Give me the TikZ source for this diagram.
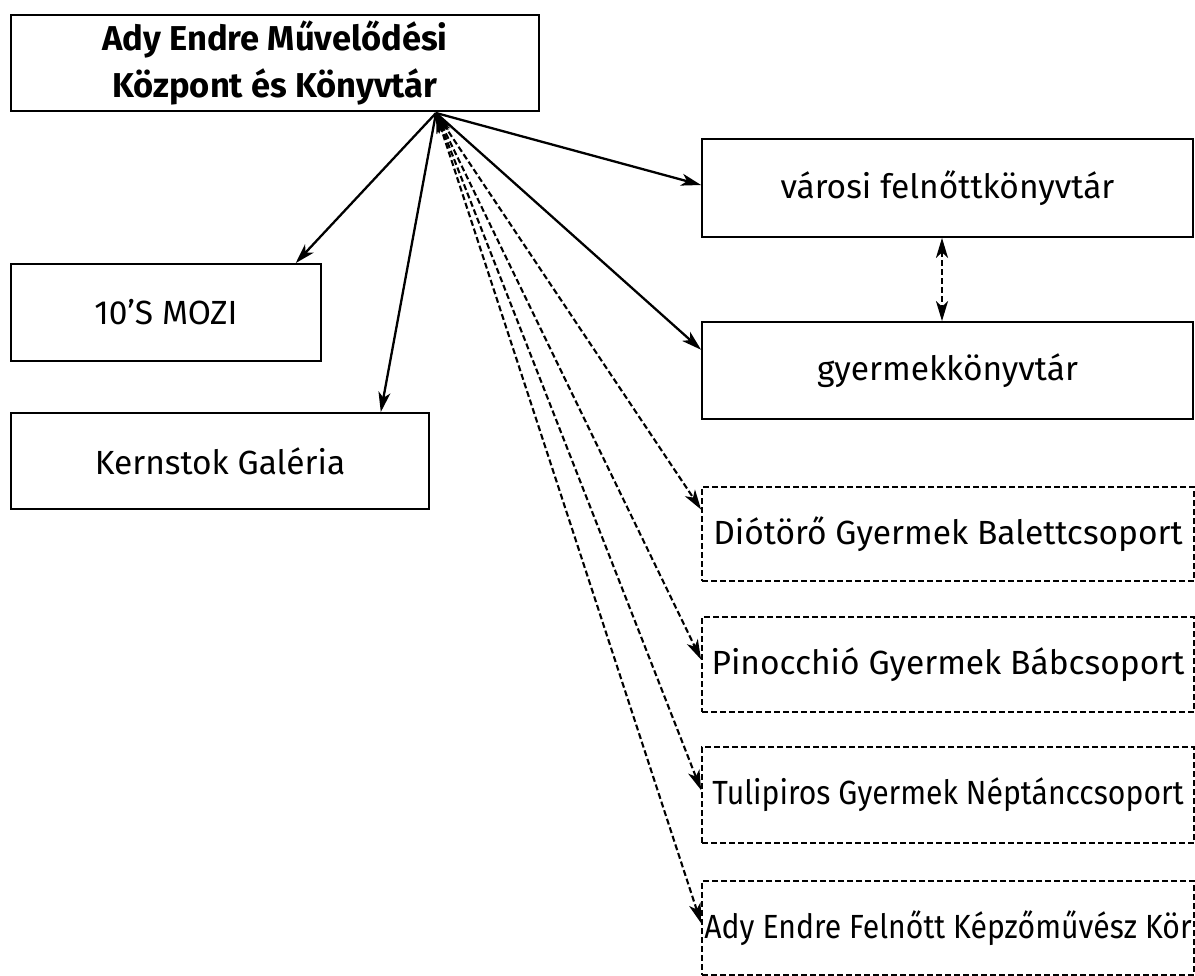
\documentclass[tikz,border=0pt]{standalone}
\usepackage{fontspec}
\setmainfont{Fira Sans}
\newfontfamily\condfont{Fira Sans}[FakeStretch=0.9]
\usetikzlibrary{arrows.meta,calc}
\begin{document}
\begin{tikzpicture}[x=1pt,y=-1pt,
  box/.style={draw,line width=1.8pt,inner sep=0pt,align=center,font=\fontsize{33.5}{47}\selectfont},
  dbox/.style={box,dash pattern=on 6pt off 3pt},
  tip/.tip={Stealth[length=20pt,width=12pt,inset=5.5pt]},
  conn/.style={line width=2.3pt,-tip},
  dconn/.style={line width=2.1pt,dash pattern=on 6pt off 3pt,tip-tip}
]
\useasboundingbox (0,0) rectangle (1195,976);
\node[box,minimum width=528pt,minimum height=96pt,font=\fontsize{34.5}{47}\selectfont\bfseries] (main) at (275,63) {Ady Endre Művelődési\\Központ és Könyvtár};
\node[box,minimum width=310pt,minimum height=97pt] (mozi) at (166,312.5) {10’S MOZI};
\node[box,minimum width=418pt,minimum height=96pt] (kern) at (220,461) {Kernstok Galéria};
\node[box,minimum width=491pt,minimum height=98pt] (var) at (947.5,188) {városi felnőttkönyvtár};
\node[box,minimum width=491pt,minimum height=97pt] (gy) at (947.5,370.5) {gyermekkönyvtár};
\node[dbox,minimum width=492pt,minimum height=94pt] (dio) at (948,534) {Diótörő Gyermek Balettcsoport};
\node[dbox,minimum width=492pt,minimum height=95pt] (pin) at (948,664.5) {Pinocchió Gyermek Bábcsoport};
\node[dbox,minimum width=492pt,minimum height=96pt] (tul) at (948,795) {\condfont Tulipiros Gyermek Néptánccsoport};
\node[dbox,minimum width=492pt,minimum height=94pt] (ady) at (948,928) {\condfont Ady Endre Felnőtt Képzőművész Kör};
\coordinate (src) at (436,113);
\draw[conn] (src) -- ($(mozi.north west)!0.916!(mozi.north east)$);
\draw[conn] (src) -- ($(kern.north west)!0.883!(kern.north east)$);
\draw[conn] (src) -- ($(var.north west)!0.47!(var.south west)$);
\draw[conn] (src) -- ($(gy.north west)!0.29!(gy.south west)$);
\draw[dconn] (src) -- ($(dio.north west)!0.245!(dio.south west)$);
\draw[dconn] (src) -- ($(pin.north west)!0.45!(pin.south west)$);
\draw[dconn] (src) -- ($(tul.north west)!0.45!(tul.south west)$);
\draw[dconn] (src) -- ($(ady.north west)!0.45!(ady.south west)$);
\draw[dconn] ([xshift=-5.5pt]var.south) -- ([xshift=-5.5pt]gy.north);
\end{tikzpicture}
\end{document}
